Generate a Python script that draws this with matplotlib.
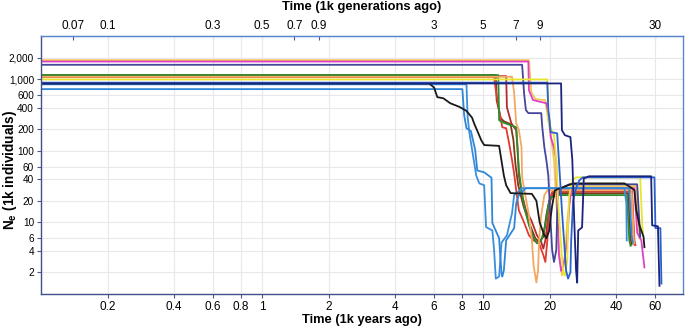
import matplotlib
matplotlib.use('Agg')
import matplotlib.pyplot as plt
from matplotlib.ticker import FixedLocator, FixedFormatter, NullLocator

plt.rcParams['font.family'] = ['Liberation Sans', 'DejaVu Sans']
plt.rcParams['mathtext.fontset'] = 'custom'
plt.rcParams['mathtext.rm'] = 'Liberation Sans'
plt.rcParams['mathtext.bf'] = 'Liberation Sans:bold'

# time in 1k years ago, Ne in 1k individuals
pink_t = [0.1, 16.0, 16.1, 16.8, 19.3, 19.9, 20.2, 20.9, 21.4, 21.6, 22.0, 22.5, 23.2, 24.0, 24.5, 25.0, 25.8, 48.3, 49.7, 51.9, 53.6]
pink_ne = [1760, 1760, 700, 510, 460, 285, 155, 112, 74, 20, 3.5, 2.1, 2.8, 5.6, 17, 28, 30, 30, 7.2, 5.6, 2.35]

gold_t = [0.1, 16.1, 16.5, 17.2, 19.1, 19.7, 20.2, 20.9, 21.4, 22.0, 22.7, 23.4, 24.0, 24.8, 25.5, 49.2, 50.3, 50.9]
gold_ne = [1840, 1840, 658, 526, 508, 267, 165, 74, 20, 4.1, 1.82, 2.96, 10.7, 24, 32, 32, 7.7, 6.0]

slate_t = [0.1, 15.0, 15.3, 15.6, 16.0, 18.3, 18.5, 18.9, 19.3, 19.7, 20.1, 20.5, 20.9, 21.4, 21.6, 21.8, 22.5, 24.5, 49.7, 51.3]
slate_ne = [1585, 1585, 640, 370, 335, 335, 213, 112, 74, 45, 12.6, 4.1, 2.8, 4.1, 12.6, 24, 30, 34, 34, 6.3]

brown_t = [0.1, 11.4, 11.5, 12.0, 12.4, 13.3, 13.7, 14.0, 14.4, 15.2, 16.1, 17.2, 17.9, 18.7, 19.3, 19.9, 20.7, 45.2, 46.4, 46.9]
brown_ne = [1137, 1137, 508, 285, 258, 235, 140, 63, 33, 17, 10, 6.0, 5.3, 6.3, 12.6, 20, 25, 25.6, 6.0, 4.9]

red_t = [0.1, 11.2, 11.4, 11.8, 12.2, 12.7, 13.1, 13.5, 13.8, 14.1, 14.5, 15.3, 16.1, 16.9, 17.9, 18.7, 19.1, 19.5, 19.9, 20.5, 22.0, 47.1, 48.3, 48.8]
red_ne = [1066, 1066, 702, 368, 213, 206, 127, 74, 48, 28, 14.7, 10, 6.6, 5.6, 5.1, 3.5, 2.8, 5.6, 20, 26.5, 28, 28, 5.6, 4.8]

green_t = [0.1, 11.7, 11.8, 12.2, 14.1, 14.3, 14.5, 14.9, 15.3, 16.1, 16.9, 17.5, 18.3, 19.1, 19.7, 20.2, 22.0, 44.6, 45.8, 46.4]
green_ne = [1137, 1137, 267, 250, 213, 112, 53, 28, 17.3, 9.1, 6.0, 5.1, 5.6, 9.1, 17.3, 22.4, 24, 24, 5.6, 4.7]

darkred_t = [0.1, 12.7, 12.8, 13.4, 14.1, 14.3, 14.5, 15.0, 15.6, 16.5, 17.5, 18.3, 18.7, 19.1, 19.7, 20.1, 20.7, 46.9, 48.0, 48.3]
darkred_ne = [1100, 1100, 405, 242, 194, 102, 45, 24, 14.7, 10.7, 6.6, 5.3, 4.3, 5.6, 12.6, 20, 26.5, 27, 6.0, 4.9]

orange_t = [0.1, 13.5, 13.8, 14.1, 14.5, 14.9, 15.0, 15.5, 16.1, 16.6, 16.9, 17.4, 17.7, 17.9, 18.3, 18.9, 19.5, 46.9, 48.0, 48.3]
orange_ne = [1077, 1077, 637, 242, 194, 112, 42.5, 24, 12.6, 5.6, 2.5, 1.45, 2.1, 5.6, 12.6, 24, 28, 28, 5.6, 5.1]

yellow_t = [0.1, 19.5, 19.7, 20.2, 20.9, 21.4, 21.8, 22.5, 23.0, 23.4, 24.0, 24.2, 24.5, 25.3, 26.3, 51.3, 52.4, 52.9]
yellow_ne = [990, 990, 267, 206, 165, 74, 20, 4.8, 2.0, 1.8, 2.96, 10.7, 24, 38.5, 42.5, 42.5, 9.1, 7.0]

navy_t = [0.1, 22.5, 22.7, 23.4, 24.8, 25.3, 25.8, 26.3, 26.6, 26.9, 28.0, 28.5, 30.1, 57.5, 58.1, 61.7, 62.7]
navy_ne = [870, 870, 194, 165, 155, 74, 10.7, 2.14, 1.44, 7.7, 8.5, 41, 44, 44, 9.1, 8.8, 1.3]

blue_t = [0.1, 19.5, 19.7, 20.2, 21.6, 22.0, 22.7, 23.2, 23.7, 24.2, 24.8, 25.0, 25.5, 26.3, 27.2, 28.2, 59.5, 60.1, 63.3, 64.0]
blue_ne = [893, 893, 368, 182, 175, 74, 14.7, 5.6, 2.14, 1.64, 2.0, 5.6, 20, 30, 38.5, 42.5, 42.5, 8.3, 8.3, 1.4]

black_t = [0.1, 5.7, 6.0, 6.2, 6.6, 7.1, 7.8, 8.4, 8.9, 9.1, 9.4, 9.8, 10.1, 11.8, 12.4, 12.7, 13.3, 16.6, 17.4, 18.0, 18.9, 19.3, 19.9, 20.2, 20.5, 21.1, 25.5, 43.5, 47.1, 48.3, 49.2, 50.9, 53.1, 53.6]
black_ne = [870, 870, 760, 560, 540, 460, 410, 360, 290, 240, 190, 140, 120, 117, 45, 33, 25.6, 25, 20, 10, 6.6, 6.0, 7.7, 12, 17, 28, 35, 35, 30, 28, 15, 9.1, 6.3, 4.5]

lightblue_t = [0.1, 8.4, 8.5, 8.65, 9.3, 9.6, 10.1, 10.3, 11.0, 11.2, 11.4, 11.8, 12.1, 12.8, 13.5, 13.8, 15.0, 43.5, 44.4, 44.6]
lightblue_ne = [845, 845, 300, 182, 45, 35, 33, 8.6, 7.7, 4.1, 1.64, 1.75, 5.2, 6.6, 13.4, 24, 30, 30, 18.5, 5.6]

skyblue_t = [0.1, 8.05, 8.2, 8.4, 8.8, 9.2, 9.4, 10.1, 10.9, 11.0, 11.8, 12.1, 12.2, 12.4, 12.7, 13.8, 14.1, 14.5, 15.6, 45.8, 46.9, 47.5]
skyblue_ne = [725, 725, 314, 206, 188, 102, 53, 50, 42, 9.8, 6.0, 1.9, 1.75, 2.14, 5.6, 8.3, 18.5, 24, 30, 30, 6.6, 5.2]

series = [
    (brown_t, brown_ne, '#7b3a12'),
    (darkred_t, darkred_ne, '#b52a2a'),
    (red_t, red_ne, '#e03a32'),
    (green_t, green_ne, '#2e8b2e'),
    (orange_t, orange_ne, '#f4a862'),
    (gold_t, gold_ne, '#f3c752'),
    (pink_t, pink_ne, '#e040c8'),
    (slate_t, slate_ne, '#45459a'),
    (yellow_t, yellow_ne, '#e6e630'),
    (lightblue_t, lightblue_ne, '#3b8fdc'),
    (skyblue_t, skyblue_ne, '#2f86d8'),
    (black_t, black_ne, '#1a1a1a'),
    (blue_t, blue_ne, '#2a62c9'),
    (navy_t, navy_ne, '#1a237e'),
]

bottom_ticks = [0.2, 0.4, 0.6, 0.8, 1, 2, 4, 6, 8, 10, 20, 40, 60]
bottom_labels = ['0.2', '0.4', '0.6', '0.8', '1', '2', '4', '6', '8', '10', '20', '40', '60']
top_ticks = [0.07, 0.1, 0.3, 0.5, 0.7, 0.9, 3, 5, 7, 9, 30]
top_labels = ['0.07', '0.1', '0.3', '0.5', '0.7', '0.9', '3', '5', '7', '9', '30']
y_ticks = [2, 4, 6, 10, 20, 40, 60, 100, 200, 400, 600, 1000, 2000]
y_labels = ['2', '4', '6', '10', '20', '40', '60', '100', '200', '400', '600', '1,000', '2,000']

fig = plt.figure(figsize=(6.85, 3.29), dpi=100)
ax = fig.add_axes([0.0599, 0.1064, 0.937, 0.7842])

for t, ne, c in series:
    ax.plot(t, ne, color=c, lw=1.3, solid_joinstyle='round')

ax.set_xscale('log')
ax.set_yscale('log')
ax.set_xlim(0.1, 80)
ax.set_ylim(1, 4000)

ax.xaxis.set_major_locator(FixedLocator(bottom_ticks))
ax.xaxis.set_major_formatter(FixedFormatter(bottom_labels))
ax.xaxis.set_minor_locator(NullLocator())
ax.yaxis.set_major_locator(FixedLocator(y_ticks))
ax.yaxis.set_major_formatter(FixedFormatter(y_labels))
ax.yaxis.set_minor_locator(NullLocator())
ax.tick_params(axis='x', labelsize=8.5, length=3, width=0.8, color='#4a5a8a', pad=2)
ax.tick_params(axis='y', labelsize=7.2, length=3, width=0.8, color='#4a5a8a', pad=2)
ax.grid(True, color='#e8e8ec', lw=0.8)
ax.set_axisbelow(True)

top = ax.secondary_xaxis('top', functions=(lambda x: x / 2, lambda x: x * 2))
top.xaxis.set_major_locator(FixedLocator(top_ticks))
top.xaxis.set_major_formatter(FixedFormatter(top_labels))
top.xaxis.set_minor_locator(NullLocator())
top.tick_params(direction='in', labelsize=8.5, length=3, width=0.8, color='#4a5a8a', pad=3)
top.spines['top'].set_color('#5a85cc')
top.set_xlabel('Time (1k generations ago)', fontsize=9.3, fontweight='bold', labelpad=7)

ax.spines['left'].set_color('#42508a')
ax.spines['bottom'].set_color('#42508a')
ax.spines['right'].set_color('#5a85cc')
ax.spines['top'].set_color('#5a85cc')
for s in ax.spines.values():
    s.set_linewidth(1.0)

ax.set_xlabel('Time (1k years ago)', fontsize=9.3, fontweight='bold', labelpad=1)
ax.set_ylabel(r'$\mathbf{N_e}$ (1k individuals)', fontsize=9.8, fontweight='bold')
ax.yaxis.set_label_coords(-0.035, 0.48)

fig.savefig('out.png', dpi=100)
